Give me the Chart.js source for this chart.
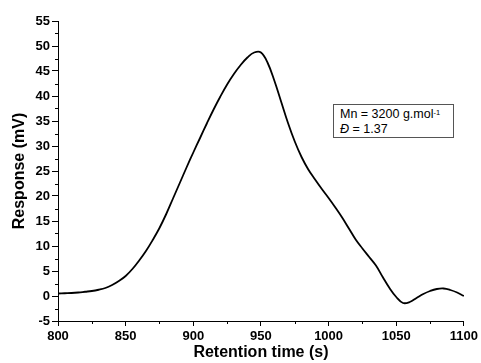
<!DOCTYPE html>
<html>
<head>
<meta charset="utf-8">
<script src="https://cdn.jsdelivr.net/npm/chart.js@4"></script>
<style>
html,body{margin:0;padding:0;background:#fff;}
#wrap{position:relative;width:481px;height:363px;}
#note{position:absolute;left:333px;top:104px;width:121px;height:34px;border:1px solid #555;background:#fff;
 font-family:"Liberation Sans",Arial,sans-serif;font-size:12.5px;line-height:15px;color:#000;padding:2px 0 0 6px;box-sizing:border-box;}
#note sup{font-size:7.5px;vertical-align:top;position:relative;top:-2px;}
</style>
</head>
<body>
<div id="wrap">
<canvas id="c" width="481" height="363"></canvas>
<div id="note">Mn = 3200 g.mol<sup>-1</sup><br><i>Đ</i> = 1.37</div>
</div>
<script>
const times = [800,805,810,815,820,825,830,835,840,845,850,855,860,865,870,875,880,885,890,895,900,905,910,915,920,925,930,935,940,945,950,955,960,965,970,975,980,985,990,995,1000,1005,1010,1015,1020,1025,1030,1035,1040,1045,1050,1055,1060,1065,1070,1075,1080,1085,1090,1095,1100];
const response = [0.5,0.55,0.6,0.7,0.85,1.0,1.25,1.6,2.2,3.0,4.0,5.4,7.1,9.0,11.2,13.6,16.4,19.5,22.6,25.7,28.7,31.6,34.5,37.3,39.9,42.3,44.4,46.2,47.7,48.7,48.7,46.6,43.0,38.8,34.6,30.9,27.8,25.3,23.3,21.4,19.6,17.7,15.7,13.5,11.3,9.5,7.8,6.1,3.8,1.6,-0.2,-1.4,-1.2,-0.4,0.4,1.0,1.4,1.5,1.2,0.7,0.0];
const xTicks = {min:800, max:1100, step:50, minorStep:25};
const yTicks = {min:-5, max:55, step:5, minorStep:2.5};
const xTitle = "Retention time (s)";
const yTitle = "Response (mV)";

const points = times.map((t,i)=>({x:t,y:response[i]}));
const FONT = "'Liberation Sans', Arial, sans-serif";

const minorTicks = {
  id:'minorTicks',
  afterDraw(chart){
    const ctx = chart.ctx, xs = chart.scales.x, ys = chart.scales.y;
    ctx.save();
    ctx.strokeStyle = '#000'; ctx.lineWidth = 1;
    ctx.beginPath();
    for(let v=xTicks.min; v<=xTicks.max+1e-9; v+=xTicks.minorStep){
      if(Math.abs((v-xTicks.min)%xTicks.step)<1e-9) continue;
      const px = Math.round(xs.getPixelForValue(v))+0.5;
      ctx.moveTo(px, ys.bottom); ctx.lineTo(px, ys.bottom+3);
    }
    for(let v=yTicks.min; v<=yTicks.max+1e-9; v+=yTicks.minorStep){
      if(Math.abs((v-yTicks.min)%yTicks.step)<1e-9) continue;
      const py = Math.round(ys.getPixelForValue(v))+0.5;
      ctx.moveTo(xs.left, py); ctx.lineTo(xs.left-3, py);
    }
    ctx.stroke();
    ctx.restore();
  }
};

new Chart(document.getElementById('c'), {
  type:'line',
  data:{datasets:[{data:points, borderColor:'#000', borderWidth:1.8, pointRadius:0, tension:0.4, fill:false}]},
  options:{
    responsive:false, animation:false,
    layout:{padding:{top:21,right:16,left:0,bottom:0}},
    plugins:{legend:{display:false}, tooltip:{enabled:false}},
    scales:{
      x:{type:'linear', min:xTicks.min, max:xTicks.max,
        afterFit(s){ s.height = 42; },
        border:{color:'#000', width:1},
        grid:{drawOnChartArea:false, color:'#000', tickLength:5, tickColor:'#000'},
        ticks:{stepSize:xTicks.step, color:'#000', padding:3, font:{family:FONT, size:13, weight:'bold'}, maxRotation:0, callback:v=>String(v)},
        title:{display:true, text:xTitle, color:'#000', padding:{top:0,bottom:1}, font:{family:FONT, size:16, weight:'bold'}}
      },
      y:{type:'linear', min:yTicks.min, max:yTicks.max,
        afterFit(s){ s.width = 58; },
        border:{color:'#000', width:1},
        grid:{drawOnChartArea:false, color:'#000', tickLength:6, tickColor:'#000'},
        ticks:{stepSize:yTicks.step, color:'#000', padding:2, font:{family:FONT, size:13, weight:'bold'}, callback:v=>String(v)},
        title:{display:true, text:yTitle, color:'#000', padding:{top:10,bottom:0}, font:{family:FONT, size:16, weight:'bold'}}
      }
    }
  },
  plugins:[minorTicks]
});
</script>
</body>
</html>
